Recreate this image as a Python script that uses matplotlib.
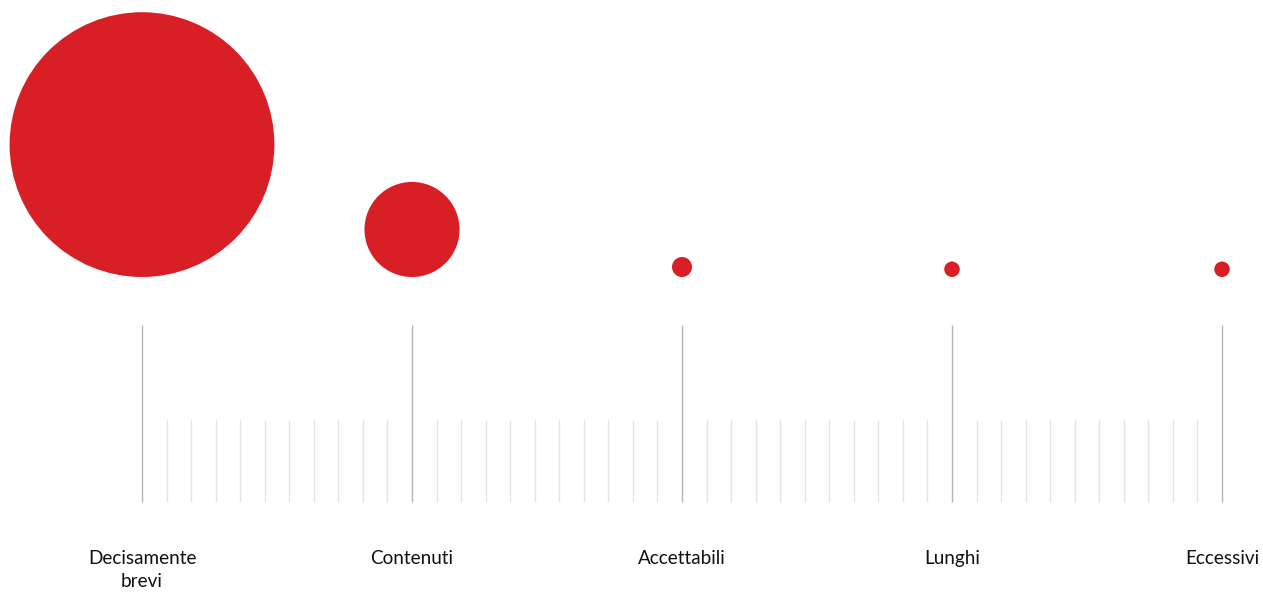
import numpy as np
import matplotlib
matplotlib.use("Agg")
import matplotlib.pyplot as plt

# Share of responses per length category (percent)
categories = ["Decisamente\nbrevi", "Contenuti", "Accettabili", "Lunghi", "Eccessivi"]
shares = [87.7, 11.3, 0.5, 0.3, 0.3]

W, H, DPI = 1263, 594, 100
BUBBLE_COLOR = "#d81f26"
MAX_RADIUS_PX = 132.4
BASELINE_Y = 277          # bubbles sit on this line (pixel rows, top = 0)
MAJOR_TOP, MINOR_TOP, RULE_BOTTOM = 325, 420, 502
MINOR_STEPS = 11

fig = plt.figure(figsize=(W / DPI, H / DPI), dpi=DPI)
ax = fig.add_axes([0, 0, 1, 1])
unit = 270.0
x0 = 142.0
ax.set_xlim(-x0 / unit, (W - x0) / unit)
ax.set_ylim(H, 0)
ax.axis("off")

x = np.arange(len(categories))
vals = np.array(shares)
radius_px = MAX_RADIUS_PX * np.sqrt(vals / vals.max())
sizes = (2 * radius_px * 72 / DPI) ** 2
ax.scatter(x, BASELINE_Y - radius_px, s=sizes, color=BUBBLE_COLOR,
           linewidths=0, zorder=3)

# Ruler: major ticks at each category, minor ticks in between
for i in x:
    ax.plot([i, i], [MAJOR_TOP, RULE_BOTTOM], color="#b4b4b8", lw=1.0,
            solid_capstyle="butt")
    if i < x[-1]:
        for k in range(1, MINOR_STEPS):
            xm = i + k / MINOR_STEPS
            ax.plot([xm, xm], [MINOR_TOP, RULE_BOTTOM], color="#e2e4e4",
                    lw=1.0, solid_capstyle="butt")

for i, lab in zip(x, categories):
    ax.text(i, 550, lab, ha="center", va="top", fontsize=13.6,
            family="Lato", color="#111111", linespacing=1.45)

fig.savefig("out.png", dpi=DPI, facecolor="white")
